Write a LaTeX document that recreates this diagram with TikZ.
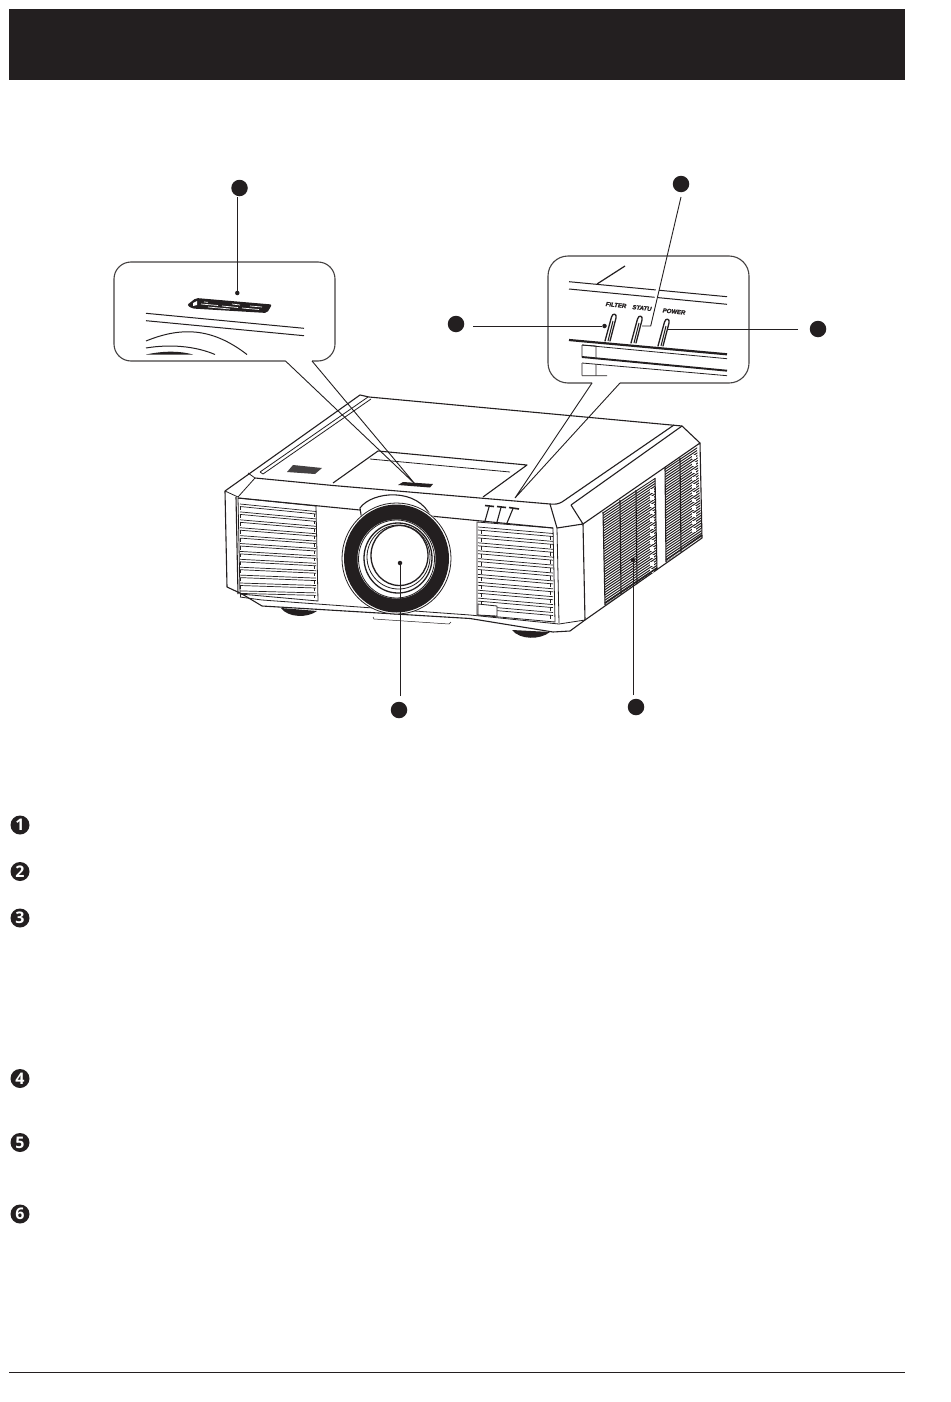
\documentclass[tikz,border=0pt]{standalone}
\usepackage{fontspec}
\setmainfont{Open Sans}
\newfontfamily\ledfont[FakeBold=2]{Liberation Sans}
\definecolor{ink}{HTML}{231F20}
\tikzset{
 thinl/.style={draw=ink,line width=0.8pt,line join=round},
 midl/.style={draw=ink,line width=1.1pt,line join=round},
 box/.style={draw=ink!85,line width=1.1pt,rounded corners=17pt},
 leader/.style={draw=ink,line width=0.9pt},
 marker/.style={circle,fill=ink,inner sep=0pt,minimum size=16.5pt},
 bullet/.style={circle,fill=ink,inner sep=0pt,minimum size=19pt,text=white,font=\fontsize{16}{16}\selectfont\bfseries},
 tipdot/.style={circle,fill=ink,inner sep=0pt,minimum size=4.5pt},
 ledtxt/.style={font=\ledfont\fontsize{6}{6}\selectfont\bfseries\itshape,text=ink,rotate=-6,inner sep=0pt},
 vent/.style={draw=ink,line width=0.7pt},
}
\begin{document}
\begin{tikzpicture}[x=1pt,y=-1pt]
\useasboundingbox (0,0) rectangle (950,1402);
\fill[white] (0,0) rectangle (950,1402);
% header and footer
\fill[ink] (9,9) rectangle (905,80);
\draw[ink,line width=0.7pt] (9,1372) -- (905,1372);

% --- projector body ---
\draw[midl] (369,397) -- (360,395) -- (225,491) -- (227,587) -- (242,594) -- (262,606) -- (470,618.5) -- (553,632) -- (570,631) -- (585,620) -- (702,538) -- (700,443) -- (682,426) -- (369,397);
\draw[thinl] (368,397) -- (260,472) (371,399) -- (263,474);
\draw[thinl] (248,473) -- (255,478) -- (238,497) -- (225,491);
\draw[thinl] (260,472) -- (263,474);
\draw[midl] (255,478) -- (333,485.5) -- (550,504) .. controls (556,504.5) and (558,504) .. (562,502) -- (674,425);
\draw[midl] (571,505) -- (682,426);
\draw[midl] (550,504) -- (557,528) -- (583,524) -- (571,505);
\draw[midl] (583,524) -- (700,443);
\draw[midl] (236,497) -- (238,594);
\draw[midl] (583,524) -- (585,620);
\draw[thinl] (557,528) -- (559,623);
\draw[thinl] (240,597) -- (262,600) -- (470,615) -- (559,624) -- (585,620);
% top recess
\draw[midl] (333,483) -- (378,451) -- (527,465) -- (483,497);
\draw[thinl] (370,459) -- (510,472);
% dark rectangle and badge on the top
\fill[ink!85] (287,472) -- (293,465) -- (322,468) -- (315,474) -- cycle;
\fill[ink] (398,485) -- (403,482) -- (433,484) -- (430,487.5) -- cycle;
% front edges
\draw[midl] (238,498) -- (360,510) (430,516) -- (553,528);
% front left vent
\draw[thinl] (238,498) -- (316,506) -- (318,601) -- (240,594) -- cycle;
\foreach \i in {0,...,11}{
  \draw[vent] (240,{504+\i*7.9}) -- (316,{511.5+\i*7.4});
  \draw[vent] (240,{506.5+\i*7.9}) -- (316,{514+\i*7.4});
  \draw[vent] (240,{506.5+\i*7.9}) -- (240,{510+\i*7.9});
  \draw[vent] (314,{514+\i*7.4}) -- (314,{517+\i*7.4});
}
% front right vent
\draw[thinl] (477,522) -- (553,528) -- (555,622) -- (477,615) -- cycle;
\foreach \i in {0,...,10}{
  \draw[vent] (478,{527+\i*7.9}) -- (553,{533.5+\i*7.9});
  \draw[vent] (478,{530+\i*7.9}) -- (553,{536.5+\i*7.9});
  \draw[vent] (481,{530+\i*7.9}) -- (481,{534+\i*7.9});
  \draw[vent] (550,{536+\i*7.9}) -- (550,{540+\i*7.9});
}
\draw[thinl,fill=white] (478,604) -- (497,606) -- (497,616) -- (478,615) -- cycle;
% small LEDs
\draw[ink,line width=1.1pt] (485,521) -- (489,507) (497,522) -- (501,507.5) (507,523) -- (513,508.5);
\draw[ink,line width=1.6pt] (485,505.5) -- (494,506.5) (497,506.5) -- (506,507.5) (509,507.5) -- (519,509);
% side vents
\begin{scope}
\clip (603,512) -- (655,478) -- (657,570) -- (605,605) -- cycle;
\foreach \i in {0,...,60}{\draw[ink,line width=1pt] (600,{515+\i*2.6}) -- (660,{475+\i*2.6});}
\foreach \i in {0,...,11}{\fill[white] (650,{489+\i*7.3}) rectangle (654,{492.5+\i*7.3});}
\end{scope}
\begin{scope}
\clip (665,467) -- (697,447) -- (702,537) -- (666,562) -- cycle;
\foreach \i in {0,...,60}{\draw[ink,line width=1pt] (660,{470+\i*2.6}) -- (705,{440+\i*2.6});}
\foreach \i in {0,...,10}{\fill[white] (692,{455+\i*7.3}) rectangle (696,{458.5+\i*7.3});}
\end{scope}
\draw[midl] (603,512) -- (605,605) (620,500) -- (621,594) (636,490) -- (637,584) (655,478) -- (657,570);
\draw[midl] (665,467) -- (666,562) (680,458) -- (681,552);
\draw[ink,line width=1.6pt] (605,603) -- (657,568);
\draw[ink,line width=1.4pt] (666,560) -- (702,535);
% feet and bottom
\fill[ink] (281,608) .. controls (288,618) and (308,618) .. (317,611) -- cycle;
\fill[ink] (512,630) .. controls (520,640) and (540,640) .. (550,632) -- cycle;
\draw[thinl,line width=0.5pt] (373,617) -- (374,619) -- (449,624) -- (451,622);
% lens
\draw[midl,fill=white] (360,508) .. controls (372,491) and (418,487) .. (431,517) -- (430,540) -- (365,540) -- cycle;
\fill[white] (396.5,558) ellipse [x radius=55,y radius=56];
\draw[thinl] (396.5,558.5) ellipse [x radius=54.5,y radius=55.5];
\fill[ink] (396.5,558.5) ellipse [x radius=52.5,y radius=54];
\fill[white] (396.5,559) ellipse [x radius=39,y radius=39.5];
\draw[thinl] (396.5,559) ellipse [x radius=38,y radius=39];
\draw[ink,line width=1.3pt] (398,558) ellipse [x radius=34,y radius=35];
\draw[thinl] (398.5,557) ellipse [x radius=31.5,y radius=32];
\draw[ink,line width=1.3pt] (399.5,555.5) ellipse [x radius=28.5,y radius=30];

% --- callout A ---
\coordinate (aL) at (285.5,361); \coordinate (aR) at (312,361); \coordinate (aT) at (415,484);
\draw[box] (aL) -- (114,361) -- (114,262) -- (335,262) -- (335,361) -- (aR);
\draw[leader] (aL) -- (aT) -- (aR);
\fill[ink,rounded corners=2pt] (187,305) -- (196,298) -- (272,304.5) -- (267,313) -- (192,308.5) -- cycle;
\draw[white,line width=0.7pt] (201,304) -- (218,305.5) (222,306) -- (238,307.5) (242,308) -- (259,309.5) (204,302) -- (208,302.3) (232,304) -- (240,305) (250,306) -- (262,307) (208,307) -- (230,309);
\fill[white] (193,303) -- (197,301) -- (197,305) -- (193,306) -- cycle;
\draw[thinl,line width=1pt] (146,313.3) -- (304,328.3) (146,320.7) -- (304,335.7);
\draw[thinl,line width=1pt] (146,341) .. controls (185,325) and (215,330) .. (247,354.5);
\draw[thinl,line width=1pt] (146,348) .. controls (170,344) and (195,346) .. (215,354.5);
\fill[ink] (146,354.5) .. controls (165,350.5) and (180,351) .. (193,354.5) -- cycle;

% --- callout B ---
\coordinate (bL) at (592,383); \coordinate (bR) at (620,383); \coordinate (bT) at (515,498);
\draw[box,rounded corners=20pt] (bL) -- (548,383) -- (548,256) -- (749,256) -- (749,383) -- (bR);
\draw[leader] (bL) -- (bT) -- (bR);
\draw[thinl,line width=1pt] (569,281.7) -- (727,296.7) (569,289) -- (727,304.3);
\draw[ink,line width=1.2pt] (597,284) -- (625,266);
\draw[ink,line width=2.2pt] (569,340) -- (727,354.3);
\draw[ink,line width=1.9pt] (582,357) -- (727,370.7);
\draw[thinl] (582,345) -- (727,358.7) (582,363) -- (727,375.7) (582,375.7) -- (607,375.7);
\draw[thinl] (582,345) -- (596,346) -- (596,358.5) (582,345) -- (582,357) (582,363) -- (582,375.7) (596,364) -- (596,375.7);
\node[ledtxt] (fil) at (616,305) {FILTER};
\node[ledtxt] (sta) at (642,308) {STATU};
\node[ledtxt] (pow) at (674,311.5) {POWER};
\foreach \x/\y in {605/341,631/343,658/346}{
  \draw[ink,line width=1.3pt,line cap=round,line join=round] (\x,\y) -- ({\x+6.5},{\y-24}) .. controls ({\x+7.5},{\y-28}) and ({\x+12},{\y-28}) .. ({\x+11},{\y-23}) -- ({\x+5},\y);
  \draw[ink,line width=1pt] ({\x+3},\y) -- ({\x+8},{\y-20});
}
% markers
\node[marker] (mA) at (239.5,188) {};
\node[marker] (mB) at (681,184) {};
\node[marker] (mC) at (456,324) {};
\node[marker] (mD) at (818,329) {};
\node[marker] (mE) at (399,710) {};
\node[marker] (mF) at (636,707) {};
\node[tipdot] (tA) at (237.3,293) {};
\node[tipdot] (tC) at (604.5,326) {};
\node[tipdot] (tE) at (400,563) {};
\node[tipdot] (tF) at (633,560) {};
\coordinate (kB) at (650.7,326); \coordinate (eB) at (642,326);
\coordinate (eD) at (667,329);
\coordinate (sA) at (237.3,197); \coordinate (sC) at (473,326); \coordinate (sD) at (798,329);
\coordinate (sB) at (681,197); \coordinate (sE) at (400,696); \coordinate (sF) at (633,695);
\draw[leader] (sA) -- (tA);
\draw[white,line width=3pt] (661,269) -- (652,321);
\draw[leader] (sB) -- (kB) -- (eB);
\draw[leader] (sC) -- (tC);
\draw[leader] (sD) -- (eD);
\draw[leader] (sE) -- (tE);
\draw[leader] (sF) -- (tF);
% numbered list
\node[bullet] (n1) at (20,825) {1};
\node[bullet] (n2) at (20,871.5) {2};
\node[bullet] (n3) at (20,918) {3};
\node[bullet] (n4) at (20,1078.5) {4};
\node[bullet] (n5) at (20,1142.5) {5};
\node[bullet] (n6) at (20,1214) {6};
\end{tikzpicture}
\end{document}
